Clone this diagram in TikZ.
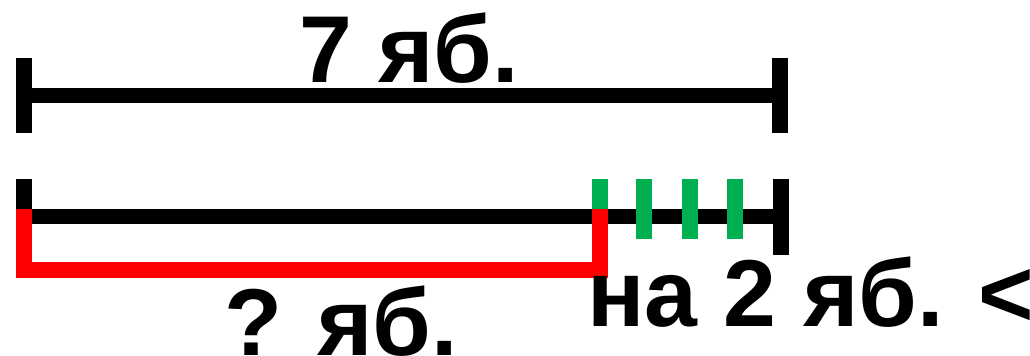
\documentclass[tikz,border=0pt]{standalone}
\usepackage{fontspec}
\setmainfont{Liberation Sans}
\definecolor{tickgreen}{RGB}{0,176,80}
\definecolor{segred}{RGB}{255,0,0}
\begin{document}
\begin{tikzpicture}[x=0.75pt,y=-0.75pt,
  bar/.style={line width=11.25pt,black},
  endtick/.style={line width=12pt,black},
  gtick/.style={line width=12pt,tickgreen},
  redseg/.style={line width=12pt,segred,line join=miter},
  lbl/.style={font=\fontsize{71.25}{80}\selectfont\bfseries,inner sep=0pt,anchor=base west}]
\useasboundingbox (0,0) rectangle (1030,356);
% top segment
\coordinate (tl) at (24,95.5);
\coordinate (tr) at (780,95.5);
\coordinate (tlt) at (24,58);   \coordinate (tlb) at (24,133);
\coordinate (trt) at (780,58);  \coordinate (trb) at (780,133);
\draw[bar] (tl) -- (tr);
\draw[endtick] (tlt) -- (tlb);
\draw[endtick] (trt) -- (trb);
\node[lbl] (total) at (299,83) {7 яб.};
% bottom segment
\coordinate (bl) at (24,216.5);
\coordinate (br) at (781,216.5);
\coordinate (blt) at (24,179);  \coordinate (blb) at (24,254);
\coordinate (brt) at (781,179); \coordinate (brb) at (781,255);
\draw[bar] (bl) -- (br);
\draw[endtick] (blt) -- (blb);
\draw[endtick] (brt) -- (brb);
% green ticks
\foreach \i/\x in {1/599.5,2/644,3/689.5,4/735}{
  \coordinate (g\i t) at (\x,179);
  \coordinate (g\i b) at (\x,239);
  \draw[gtick] (g\i t) -- (g\i b);
}
% red bracket
\coordinate (r1) at (599.5,209);
\coordinate (r2) at (599.5,270);
\coordinate (r3) at (24,270);
\coordinate (r4) at (24,209);
\draw[redseg] (r1) -- (r2) -- (r3) -- (r4);
\node[lbl] (part) at (224,355) {? яб.};
\node[lbl] (diff) at (587,326) {на 2 яб. <};
\end{tikzpicture}
\end{document}
